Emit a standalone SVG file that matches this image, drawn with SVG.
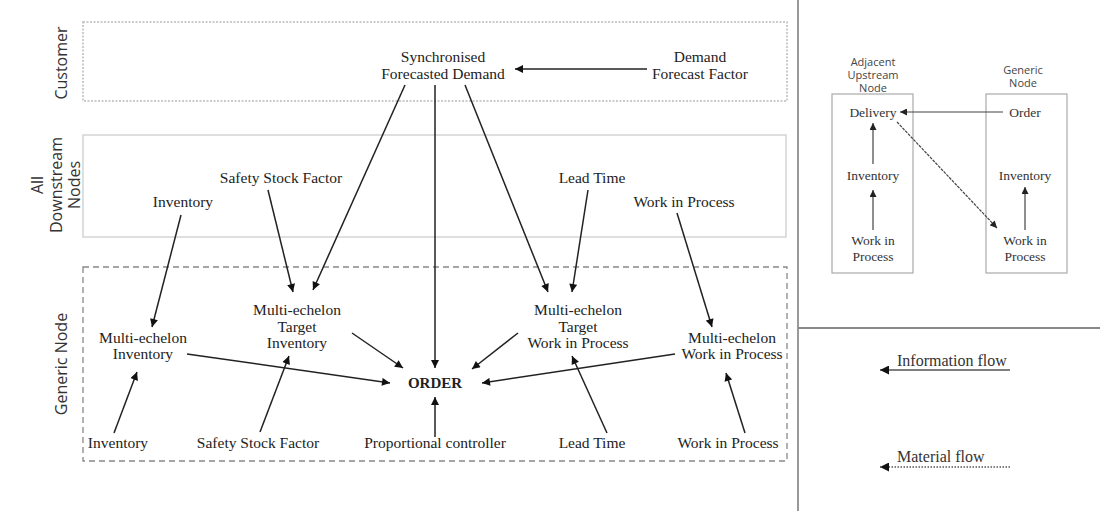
<svg xmlns="http://www.w3.org/2000/svg" width="1100" height="511" viewBox="0 0 1100 511">
<defs>
<marker id="ah" viewBox="0 0 10 10" refX="10" refY="5" markerWidth="10" markerHeight="8" markerUnits="userSpaceOnUse" orient="auto">
<path d="M0,0 L10,5 L0,10 z" fill="#111"/>
</marker>
<marker id="ahs" viewBox="0 0 10 10" refX="10" refY="5" markerWidth="8" markerHeight="7" markerUnits="userSpaceOnUse" orient="auto">
<path d="M0,0 L10,5 L0,10 z" fill="#222"/>
</marker>
<marker id="ahl" viewBox="0 0 10 10" refX="10" refY="5" markerWidth="10" markerHeight="9" markerUnits="userSpaceOnUse" orient="auto">
<path d="M0,0 L10,5 L0,10 z" fill="#111"/>
</marker>
</defs>
<style>
.t{font-family:"Liberation Serif","Times New Roman",serif;font-size:15.5px;fill:#222;text-anchor:middle}
.b{font-weight:bold;font-size:15px}
.s{font-family:"Liberation Serif","Times New Roman",serif;font-size:13.5px;fill:#333;text-anchor:middle}
.lab{font-family:"Open Sans","DejaVu Sans",sans-serif;font-size:16px;fill:#333;text-anchor:middle}
.sl{font-family:"Open Sans","DejaVu Sans",sans-serif;font-size:11px;fill:#444;text-anchor:middle}
.lg{font-family:"Liberation Serif","Times New Roman",serif;font-size:16px;fill:#333}
.c{stroke:#222;stroke-width:1.5;fill:none;marker-end:url(#ah)}
.cs{stroke:#444;stroke-width:1.2;fill:none;marker-end:url(#ahs)}
.cl{stroke:#555;stroke-width:1.3;fill:none;marker-end:url(#ahl)}
</style>
<rect width="1100" height="511" fill="#fff"/>
<g id="bands">
<rect x="83" y="22" width="704" height="79" fill="none" stroke="#bbb" stroke-width="1.5" stroke-dasharray="2,1.5"/>
<rect x="83" y="135" width="703" height="102" fill="none" stroke="#d4d4d4" stroke-width="1.5"/>
<rect x="83" y="267" width="704" height="194" fill="none" stroke="#888" stroke-width="1.3" stroke-dasharray="6,4"/>
<text class="lab" transform="translate(67,63) rotate(-90)">Customer</text>
<text class="lab" transform="translate(43,185) rotate(-90)">All</text>
<text class="lab" transform="translate(62,185) rotate(-90)">Downstream</text>
<text class="lab" transform="translate(80,185) rotate(-90)">Nodes</text>
<text class="lab" transform="translate(67,364) rotate(-90)">Generic Node</text>
</g>
<g id="dividers">
<line x1="798" y1="0" x2="798" y2="511" stroke="#999" stroke-width="2"/>
<line x1="798" y1="328" x2="1100" y2="328" stroke="#888" stroke-width="2"/>
</g>
<g id="n-sync"><text class="t" x="443" y="62">Synchronised</text><text class="t" x="443" y="79">Forecasted Demand</text></g>
<g id="n-dff"><text class="t" x="700" y="62">Demand</text><text class="t" x="700" y="79">Forecast Factor</text></g>
<g id="n-ds-ssf"><text class="t" x="281" y="183">Safety Stock Factor</text></g>
<g id="n-ds-inv"><text class="t" x="183" y="207">Inventory</text></g>
<g id="n-ds-lt"><text class="t" x="592" y="183">Lead Time</text></g>
<g id="n-ds-wip"><text class="t" x="684" y="207">Work in Process</text></g>
<g id="n-mei"><text class="t" x="143" y="343">Multi-echelon</text><text class="t" x="143" y="359">Inventory</text></g>
<g id="n-meti"><text class="t" x="297" y="315">Multi-echelon</text><text class="t" x="297" y="332">Target</text><text class="t" x="297" y="348">Inventory</text></g>
<g id="n-metw"><text class="t" x="578" y="315">Multi-echelon</text><text class="t" x="578" y="332">Target</text><text class="t" x="578" y="348">Work in Process</text></g>
<g id="n-mew"><text class="t" x="732" y="343">Multi-echelon</text><text class="t" x="732" y="359">Work in Process</text></g>
<g id="n-order"><text class="t b" x="435" y="388">ORDER</text></g>
<g id="n-g-inv"><text class="t" x="118" y="448">Inventory</text></g>
<g id="n-g-ssf"><text class="t" x="258" y="448">Safety Stock Factor</text></g>
<g id="n-g-pc"><text class="t" x="435" y="448">Proportional controller</text></g>
<g id="n-g-lt"><text class="t" x="592" y="448">Lead Time</text></g>
<g id="n-g-wip"><text class="t" x="728" y="448">Work in Process</text></g>
<g id="n-adj">
<rect x="832" y="94" width="81" height="179" fill="none" stroke="#aaa" stroke-width="1.2"/>
<text class="sl" x="873" y="66">Adjacent</text><text class="sl" x="873" y="79">Upstream</text><text class="sl" x="873" y="92">Node</text>
<text class="s" x="873" y="117">Delivery</text>
<text class="s" x="873" y="180">Inventory</text>
<text class="s" x="873" y="245">Work in</text><text class="s" x="873" y="261">Process</text>
</g>
<g id="n-gen">
<rect x="986" y="94" width="81" height="179" fill="none" stroke="#aaa" stroke-width="1.2"/>
<text class="sl" x="1023" y="74">Generic</text><text class="sl" x="1023" y="87">Node</text>
<text class="s" x="1025" y="117">Order</text>
<text class="s" x="1025" y="180">Inventory</text>
<text class="s" x="1025" y="245">Work in</text><text class="s" x="1025" y="261">Process</text>
</g>
<g id="legend">
<text class="lg" x="897" y="366">Information flow</text>
<line x1="1010" y1="370" x2="880" y2="370" class="cl"/>
<text class="lg" x="897" y="462">Material flow</text>
<line x1="1010" y1="467" x2="880" y2="467" class="cl" stroke-dasharray="1.5,1.5"/>
</g>
<g id="connectors">
<line class="c" x1="647" y1="69" x2="515" y2="69"/>
<line class="c" x1="405" y1="85" x2="313" y2="290"/>
<line class="c" x1="435" y1="85" x2="435" y2="368" stroke-width="2.5"/>
<line class="c" x1="465" y1="85" x2="548" y2="292"/>
<line class="c" x1="181" y1="215" x2="152" y2="327"/>
<line class="c" x1="268" y1="190" x2="293" y2="292"/>
<line class="c" x1="588" y1="190" x2="572" y2="292"/>
<line class="c" x1="677" y1="213" x2="712" y2="327"/>
<line class="c" x1="114" y1="433" x2="137" y2="372"/>
<line class="c" x1="260" y1="432" x2="289" y2="356"/>
<line class="c" x1="435" y1="437" x2="435" y2="397"/>
<line class="c" x1="607" y1="433" x2="572" y2="356"/>
<line class="c" x1="745" y1="433" x2="726" y2="373"/>
<line class="c" x1="187" y1="354" x2="390" y2="383"/>
<line class="c" x1="352" y1="333" x2="403" y2="368"/>
<line class="c" x1="518" y1="333" x2="472" y2="369"/>
<line class="c" x1="675" y1="354" x2="482" y2="383"/>
<line class="cs" x1="1003" y1="112" x2="900" y2="112"/>
<line class="cs" x1="873" y1="164" x2="873" y2="123"/>
<line class="cs" x1="873" y1="230" x2="873" y2="190"/>
<line class="cs" x1="1025" y1="230" x2="1025" y2="187"/>
<line class="cs" x1="897" y1="122" x2="997" y2="228" stroke-dasharray="3,1"/>
</g>
</svg>
